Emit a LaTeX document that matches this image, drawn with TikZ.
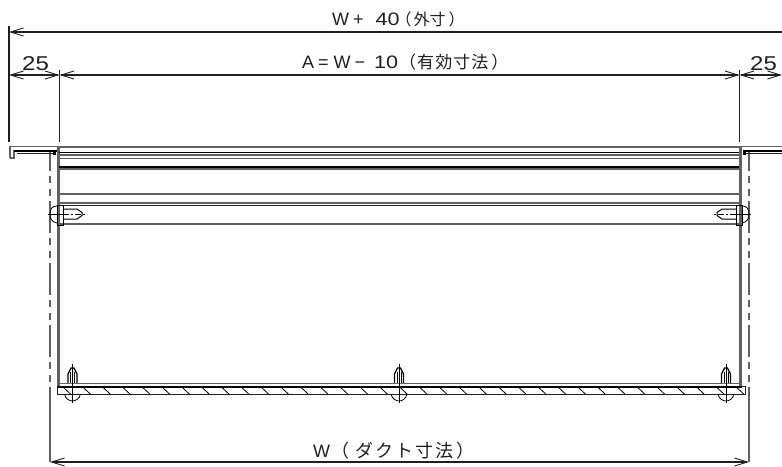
\documentclass[tikz,border=0pt]{standalone}
\usepackage{fontspec}
\setmainfont{Liberation Sans}
\newfontfamily\jpfont{Noto Sans CJK JP}
\newfontfamily\numfont[FakeStretch=1.2]{Liberation Sans}
\newcommand{\jp}[3]{{\jpfont\fontsize{#1}{#1}\selectfont\addfontfeature{LetterSpace=#2}#3}}
\usetikzlibrary{arrows.meta}
\definecolor{ink}{gray}{0.12}
\definecolor{wallgrey}{gray}{0.38}
\tikzset{
  thin line/.style={draw=ink,line width=1pt},
  grey line/.style={draw=wallgrey,line width=1.3pt},
  heavy line/.style={draw=black,line width=2pt},
  band/.style={draw=wallgrey,line width=3pt},
  dim line/.style={draw=ink,line width=1.2pt},
  dim both/.style={dim line,{Straight Barb[length=13pt,width=8pt,line width=0.9pt]}-{Straight Barb[length=13pt,width=8pt,line width=0.9pt]}},
  dim left/.style={dim line,{Straight Barb[length=13pt,width=8pt,line width=0.9pt]}-},
  centre line/.style={draw=wallgrey,line width=1.5pt,dash pattern=on 32pt off 5pt on 7pt off 6pt on 7pt off 5pt,dash phase=13pt},
  solid centre/.style={draw=wallgrey,line width=1.5pt},
  label/.style={inner sep=0pt,text=ink,font=\fontsize{18}{18}\selectfont,anchor=base west},
  big label/.style={label,font=\fontsize{20}{20}\selectfont},
  fine/.style={draw=black,line width=0.8pt}
}
\begin{document}
\begin{tikzpicture}[x=1pt,y=-1pt]
\useasboundingbox[fill=white] (0,0) rectangle (782,466);
% named dimension points
\coordinate (extLtop) at (9,26);   \coordinate (extLbot) at (9,142);
\coordinate (extAtop) at (59.5,70);  \coordinate (extAbot) at (59.5,142);
\coordinate (extBtop) at (739.5,70); \coordinate (extBbot) at (739.5,142);
\coordinate (topL) at (9,32);   \coordinate (topR) at (782,32);
\coordinate (a0) at (9,75);  \coordinate (a1) at (59.5,75);
\coordinate (a2) at (739.5,75); \coordinate (a3) at (782,75);
\coordinate (wL) at (50,462); \coordinate (wR) at (749,462);
\coordinate (clLt) at (50,152); \coordinate (clRt) at (749,152);
\coordinate (clLm) at (50,419); \coordinate (clRm) at (749,419);
% extension lines
\draw[dim line,line width=1.4pt] (extLtop) -- (extLbot);
\draw[dim line,line width=1.4pt] (extAtop) -- (extAbot);
\draw[dim line,line width=1.4pt] (extBtop) -- (extBbot);
% dimensions
\draw[dim left] (topL) -- (topR);
\draw[dim both] (a0) -- (a1);
\draw[dim both] (a1) -- (a2);
\draw[dim both] (a2) -- (a3);
\draw[dim both] (wL) -- (wR);
% centre lines
\draw[centre line] (clLt) -- (clLm);
\draw[solid centre] (clLm) -- (wL);
\draw[centre line] (clRt) -- (clRm);
\draw[solid centre] (clRm) -- (wR);
% labels
\node[label] (t1) at (332,25) {W\hspace{4pt}+\hspace{12pt}{\numfont 40}\hspace{-4pt}\jp{16}{0}{（\hspace{2pt}外寸\hspace{3pt}）}};
\node[label] (t2) at (302,68) {A\hspace{4pt}=\hspace{5pt}W\hspace{4pt}−\hspace{9pt}{\numfont 10}\hspace{1pt}\jp{17}{6}{（\hspace{1pt}有効寸法\hspace{3pt}）}};
\node[big label] (t3) at (22,70) {\numfont 25};
\node[big label] (t4) at (750,70) {\numfont 25};
\node[label] (t5) at (313,457) {W\hspace{1pt}\jp{18}{11}{（\hspace{6pt}ダクト寸法\hspace{3pt}）}};
% left flange
\draw[grey line] (10,158) -- (10,146.5) -- (59,146.5);
\draw[grey line] (10,158) -- (14,158) -- (14,150);
\draw[heavy line] (14,150.5) -- (57,150.5);
\draw[thin line] (17,153.5) -- (54,153.5);
\draw[heavy line,line width=3pt] (54.5,150) -- (54.5,154.5);
% right flange
\draw[grey line] (739,146.5) -- (782,146.5);
\draw[heavy line] (743,150.5) -- (782,150.5);
\draw[thin line] (746,153.5) -- (782,153.5);
\draw[heavy line,line width=3pt] (744.5,150) -- (744.5,154.5);
% body walls
\draw[band] (58.5,146) -- (58.5,386);
\draw[band] (740.5,146) -- (740.5,386);
% horizontal profile lines
\draw[grey line] (59,147) -- (739,147);
\draw[heavy line,line width=1.3pt] (59,152.5) -- (739,152.5);
\draw[grey line] (59,155) -- (739,155);
\draw[grey line] (59,158.5) -- (739,158.5);
\draw[heavy line] (59,166.5) -- (739,166.5);
\draw[grey line] (59,169) -- (739,169);
\draw[grey line] (59,194) -- (739,194);
\draw[grey line,line width=1.8pt] (60,203) -- (739,203);
\draw[thin line] (60,205.5) -- (739,205.5);
\draw[grey line] (60,224) -- (739,224);
% bottom plate
\draw[grey line] (57,383.5) -- (742,383.5);
\draw[heavy line] (57,386.5) -- (742,386.5);
\draw[thin line] (57,386) -- (57,394) -- (745,394) -- (745,386) -- (742,386);
\foreach \nn in {0,...,34}
  \draw[fine] ({63+19.8*\nn},387) -- ({70.5+19.8*\nn},394);
% side screws
\foreach \sx/\xa in {1/57,-1/742}{
  \begin{scope}[shift={(\xa,214)},xscale=\sx]
    \draw[black,line width=1pt,fill=white] (6,-5) -- (20,-5) -- (25,-1.5) -- (25,1.5) -- (20,5) -- (6,5);
    \draw[fine,dash pattern=on 6pt off 2pt on 2pt off 2pt] (6,0) -- (30,0);
    \draw[fine] (0,-9) rectangle (6,11);
    \draw[fine] (0,-8) .. controls (-5,-8) and (-7,-5) .. (-7,0) .. controls (-7,5) and (-5,8) .. (0,9);
    \draw[fine] (-9,0) -- (6,0);
  \end{scope}
}
% bottom screws
\foreach \bx in {72.5,399,726}{
  \begin{scope}[shift={(\bx,383)}]
    \draw[black,line width=1.2pt,fill=white] (-4.5,0) -- (-4.5,-9) -- (-1.5,-15) -- (1.5,-15) -- (4.5,-9) -- (4.5,0);
    \draw[fine] (-2,0) -- (-2,-11);
    \draw[fine] (2,0) -- (2,-11);
    \draw[fine] (0,-19) -- (0,20);
    \draw[fine] (-8,11) .. controls (-7,16) and (-3,18) .. (0,18) .. controls (3,18) and (7,16) .. (8,11);
  \end{scope}
}
\end{tikzpicture}
\end{document}
